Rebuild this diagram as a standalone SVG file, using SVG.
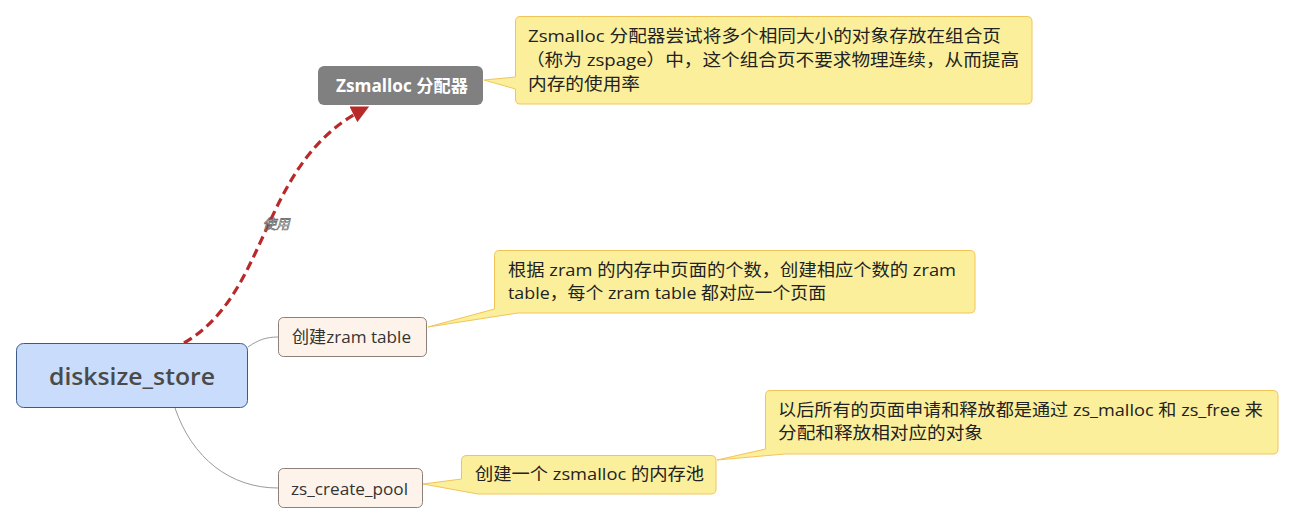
<svg xmlns="http://www.w3.org/2000/svg" width="1294" height="525" viewBox="0 0 1294 525">
<style>
text{font-family:"Open Sans","Noto Sans CJK SC","Noto Sans",sans-serif;}
.callout{fill:#fbef9c;stroke:#f1c45a;stroke-width:1;}
.topic{fill:#fdf3ea;stroke:#8c8078;stroke-width:1;}
.body{font-size:17px;fill:#222;}
.tlabel{font-size:17px;fill:#333;}
.branch{fill:none;stroke:#9a9a9a;stroke-width:1;}
</style>
<defs>
<marker id="arrow" viewBox="0 0 10 10" refX="8" refY="5" markerWidth="5.5" markerHeight="5.5" orient="auto" markerUnits="strokeWidth">
<path d="M0,0 L10,5 L0,10 z" fill="#b8292a"/>
</marker>
</defs>
<rect width="1294" height="525" fill="#ffffff"/>
<g id="connectors">
<path class="branch" d="M248,347 C258,340 266,337 278,337"/>
<path class="branch" d="M175,408 C192,458 230,488 278,488"/>
<path d="M184,343 C272,292 258,162 366,108" fill="none" stroke="#b8292a" stroke-width="3.2" stroke-dasharray="9,5" marker-end="url(#arrow)"/>
<text x="276" y="229" text-anchor="middle" font-size="13.5" font-style="italic" fill="#ffffff" stroke="#555" stroke-width="0.6">使用</text>
</g>
<g id="root">
<rect x="16.5" y="343.5" width="231" height="64" rx="7" fill="#c9dcfb" stroke="#3d5a8a" stroke-width="1"/>
<text x="132" y="385" text-anchor="middle" font-size="24" font-weight="600" fill="#4a4a4a" textLength="166" lengthAdjust="spacingAndGlyphs">disksize_store</text>
</g>
<g id="zsmalloc">
<rect x="318" y="66" width="165" height="39" rx="6" fill="#808080"/>
<text x="336" y="92" font-size="17" font-weight="bold" fill="#ffffff" textLength="132" lengthAdjust="spacingAndGlyphs">Zsmalloc 分配器</text>
</g>
<g id="callout-zsmalloc">
<path class="callout" d="M520,16.5 H1027 Q1032,16.5 1032,21.5 V99 Q1032,104 1027,104 H520 Q515.5,104 515.5,99 V89 L484,80 L515.5,77 V21.5 Q515.5,16.5 520,16.5 Z"/>
<text class="body" x="528" y="42" textLength="473" lengthAdjust="spacingAndGlyphs">Zsmalloc 分配器尝试将多个相同大小的对象存放在组合页</text>
<text class="body" x="526" y="66" textLength="493" lengthAdjust="spacingAndGlyphs">（称为 zspage）中，这个组合页不要求物理连续，从而提高</text>
<text class="body" x="528" y="90" textLength="112" lengthAdjust="spacingAndGlyphs">内存的使用率</text>
</g>
<g id="zram-table">
<rect class="topic" x="278.5" y="317.5" width="148" height="39" rx="5"/>
<text class="tlabel" x="292" y="343" textLength="119" lengthAdjust="spacingAndGlyphs">创建zram table</text>
</g>
<g id="callout-zram-table">
<path class="callout" d="M499,250.5 H970 Q975,250.5 975,255.5 V308 Q975,313 970,313 H518 L428,327 L494.5,309 V255.5 Q494.5,250.5 499,250.5 Z"/>
<text class="body" x="508" y="276" textLength="448" lengthAdjust="spacingAndGlyphs">根据 zram 的内存中页面的个数，创建相应个数的 zram</text>
<text class="body" x="508" y="299" textLength="318" lengthAdjust="spacingAndGlyphs">table，每个 zram table 都对应一个页面</text>
</g>
<g id="zs-create-pool">
<rect class="topic" x="278.5" y="468.5" width="144" height="39" rx="5"/>
<text class="tlabel" x="291" y="495" textLength="117" lengthAdjust="spacingAndGlyphs">zs_create_pool</text>
</g>
<g id="callout-pool">
<path class="callout" d="M467,455.5 H711 Q716,455.5 716,460.5 V489 Q716,494 711,494 H478 L423,484 L461.5,479 V460.5 Q461.5,455.5 467,455.5 Z"/>
<text class="body" x="475" y="480" textLength="229" lengthAdjust="spacingAndGlyphs">创建一个 zsmalloc 的内存池</text>
</g>
<g id="callout-malloc">
<path class="callout" d="M770,390.5 H1273 Q1278,390.5 1278,395.5 V449 Q1278,454 1273,454 H785 L717,460 L765.5,449 V395.5 Q765.5,390.5 770,390.5 Z"/>
<text class="body" x="778" y="416" textLength="485" lengthAdjust="spacingAndGlyphs">以后所有的页面申请和释放都是通过 zs_malloc 和 zs_free 来</text>
<text class="body" x="778" y="439" textLength="205" lengthAdjust="spacingAndGlyphs">分配和释放相对应的对象</text>
</g>
</svg>
